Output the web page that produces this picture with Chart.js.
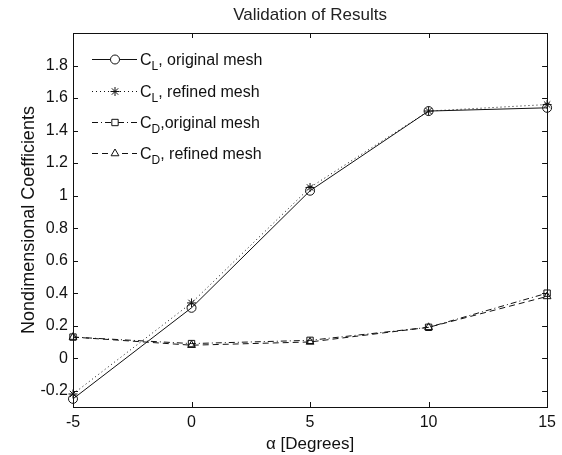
<!DOCTYPE html>
<html>
<head>
<meta charset="utf-8">
<script src="https://cdn.jsdelivr.net/npm/chart.js@4/dist/chart.umd.min.js"></script>
<style>
  html, body { margin: 0; padding: 0; background: #fff; }
  #wrap { width: 562px; height: 455px; }
</style>
</head>
<body>
<div id="wrap"><canvas id="c" width="562" height="455"></canvas></div>
<script>
// ---- data ----
const alpha = [-5, 0, 5, 10, 15];
const clOriginal = [-0.25, 0.31, 1.03, 1.52, 1.54];
const clRefined  = [-0.22, 0.34, 1.05, 1.52, 1.56];
const cdOriginal = [0.13, 0.09, 0.11, 0.19, 0.40];
const cdRefined  = [0.13, 0.08, 0.10, 0.19, 0.38];
const xTicks = [-5, 0, 5, 10, 15];
const yTicks = [-0.2, 0, 0.2, 0.4, 0.6, 0.8, 1, 1.2, 1.4, 1.6, 1.8];
const legendMain = ['C', 'C', 'C', 'C'];
const legendSub  = ['L', 'L', 'D', 'D'];
const legendRest = [', original mesh', ', refined mesh', ',original mesh', ', refined mesh'];
const titleText = 'Validation of Results';
const xTitle = '\u03B1 [Degrees]';
const yTitle = 'Nondimensional Coefficients';

const FONT = '"Liberation Sans", Arial, Helvetica, sans-serif';
const INK = '#111';

function pts(vals) { return alpha.map((a, i) => ({ x: a, y: vals[i] })); }

const styles = [
  { dash: [], point: 'circle', r: 4.5 },
  { dash: [1, 3], point: 'star', r: 4.5 },
  { dash: [6, 3, 1, 3], point: 'rect', r: 4.5 },
  { dash: [6, 4], point: 'triangle', r: 4.5 }
];
const series = [clOriginal, clRefined, cdOriginal, cdRefined];

const datasets = series.map((s, i) => ({
  label: legendMain[i] + legendSub[i] + legendRest[i],
  data: pts(s),
  borderColor: INK,
  borderWidth: 1,
  borderDash: styles[i].dash,
  pointStyle: styles[i].point,
  pointRadius: styles[i].r,
  pointHoverRadius: styles[i].r,
  pointBorderColor: INK,
  pointBackgroundColor: 'rgba(0,0,0,0)',
  pointBorderWidth: 1,
  showLine: true,
  tension: 0,
  clip: false
}));

const framePlugin = {
  id: 'frame',
  afterDatasetsDraw(chart) {
    const { ctx, chartArea: a, scales } = chart;
    ctx.save();
    ctx.strokeStyle = INK;
    ctx.lineWidth = 1;
    ctx.setLineDash([]);
    ctx.strokeRect(Math.round(a.left) + 0.5, Math.round(a.top) + 0.5,
                   Math.round(a.right - a.left), Math.round(a.bottom - a.top));
    const tl = 5;
    ctx.beginPath();
    xTicks.forEach(v => {
      const x = Math.round(scales.x.getPixelForValue(v)) + 0.5;
      ctx.moveTo(x, a.bottom); ctx.lineTo(x, a.bottom - tl);
      ctx.moveTo(x, a.top); ctx.lineTo(x, a.top + tl);
    });
    yTicks.forEach(v => {
      const y = Math.round(scales.y.getPixelForValue(v)) + 0.5;
      ctx.moveTo(a.left, y); ctx.lineTo(a.left + tl, y);
      ctx.moveTo(a.right, y); ctx.lineTo(a.right - tl, y);
    });
    ctx.stroke();
    ctx.restore();
  },
  afterDraw(chart) {
    const { ctx, chartArea: a } = chart;
    ctx.save();
    // title
    ctx.fillStyle = '#222';
    ctx.font = '17px ' + FONT;
    ctx.textAlign = 'center';
    ctx.textBaseline = 'middle';
    ctx.fillText(titleText, (a.left + a.right) / 2, 15);
    // legend
    const x0 = 92, x1 = 137, xm = 115, xt = 140;
    const rowY = [59, 91, 122, 153];
    chart.data.datasets.forEach((ds, i) => {
      const y = rowY[i] + 0.5;
      ctx.strokeStyle = INK;
      ctx.lineWidth = 1;
      ctx.setLineDash(ds.borderDash);
      ctx.beginPath();
      ctx.moveTo(x0, y); ctx.lineTo(x1, y);
      ctx.stroke();
      ctx.setLineDash([]);
      ctx.fillStyle = '#fff';
      Chart.helpers.drawPoint(ctx, {
        pointStyle: ds.pointStyle, radius: ds.pointRadius,
        borderWidth: 1, rotation: 0
      }, xm, y);
      // text with subscript
      ctx.fillStyle = INK;
      ctx.textAlign = 'left';
      ctx.textBaseline = 'alphabetic';
      const base = y + 5.5;
      ctx.font = '16px ' + FONT;
      let x = xt;
      ctx.fillText(legendMain[i], x, base);
      x += ctx.measureText(legendMain[i]).width;
      ctx.font = '12px ' + FONT;
      ctx.fillText(legendSub[i], x, base + 5);
      x += ctx.measureText(legendSub[i]).width;
      ctx.font = '16px ' + FONT;
      ctx.fillText(legendRest[i], x, base);
    });
    ctx.restore();
  }
};

new Chart(document.getElementById('c'), {
  type: 'scatter',
  data: { datasets },
  options: {
    responsive: false,
    animation: false,
    events: [],
    layout: { padding: { top: 33, right: 13, left: 0, bottom: 0 } },
    plugins: {
      legend: { display: false },
      tooltip: { enabled: false },
      title: { display: false }
    },
    scales: {
      x: {
        type: 'linear', min: -5, max: 15,
        afterBuildTicks(s) { s.ticks = xTicks.map(v => ({ value: v })); },
        afterFit(s) { s.height = 48; },
        grid: { display: false, drawTicks: false },
        border: { display: false },
        ticks: { color: INK, font: { family: FONT, size: 16 }, padding: 6, maxRotation: 0,
                 callback: v => String(v) },
        title: { display: true, text: xTitle, color: INK, font: { family: FONT, size: 17 },
                 padding: { top: 5, bottom: 0 } }
      },
      y: {
        type: 'linear', min: -0.3, max: 2.0,
        afterBuildTicks(s) { s.ticks = yTicks.map(v => ({ value: v })); },
        afterFit(s) { s.width = 73; },
        grid: { display: false, drawTicks: false },
        border: { display: false },
        ticks: { color: INK, font: { family: FONT, size: 16 }, padding: 5,
                 callback: v => String(Math.round(v * 10) / 10) },
        title: { display: true, text: yTitle, color: INK, font: { family: FONT, size: 18 },
                 padding: { top: 18, bottom: 0 } }
      }
    }
  },
  plugins: [framePlugin]
});
</script>
</body>
</html>
